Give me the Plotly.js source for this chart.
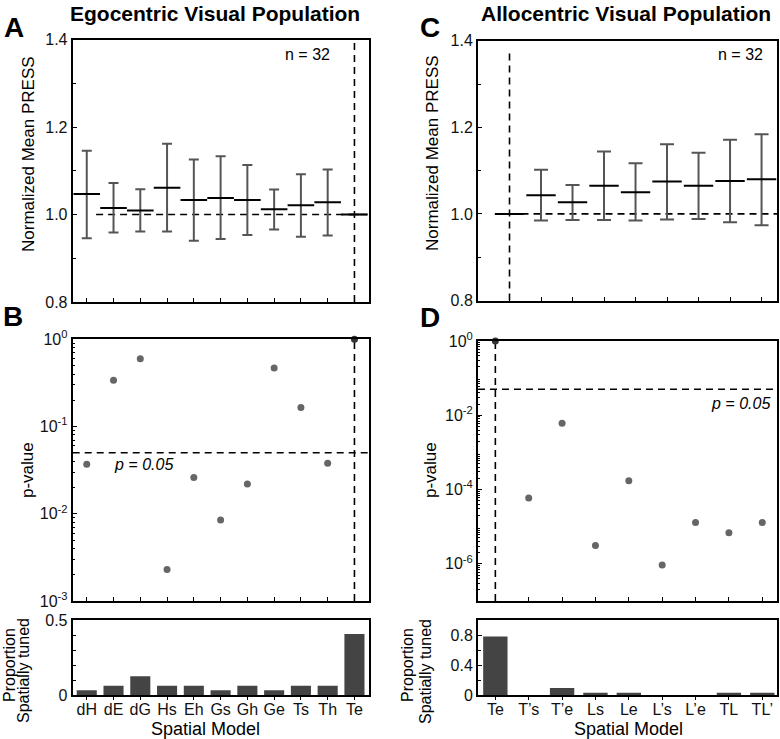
<!DOCTYPE html>
<html><head><meta charset="utf-8">
<script src="https://cdn.plot.ly/plotly-3.0.1.min.js"></script>
<style>html,body{margin:0;padding:0;background:#fff}#chart{width:780px;height:739px}</style>
</head><body><div id="chart"></div>
<script>
// ---------- data ----------
const egoModels = ['dH','dE','dG','Hs','Eh','Gs','Gh','Ge','Ts','Th','Te'];
const egoPressMean = [1.047,1.015,1.009,1.061,1.033,1.038,1.033,1.012,1.021,1.028,1.0];
const egoPressHigh = [1.146,1.072,1.058,1.162,1.126,1.133,1.113,1.057,1.092,1.103,1.0];
const egoPressLow  = [0.946,0.959,0.961,0.961,0.940,0.944,0.953,0.966,0.949,0.952,1.0];
const egoPValue = [0.037,0.34,0.60,0.0023,0.026,0.0085,0.022,0.47,0.165,0.038,1.0];
const egoTuned = [1/32,2/32,4/32,2/32,2/32,1/32,2/32,1/32,2/32,2/32,13/32];

const alloModels = ['Te','T\u2019s','T\u2019e','Ls','Le','L\u2019s','L\u2019e','TL','TL\u2019'];
const alloPressMean = [1.0,1.043,1.027,1.065,1.050,1.075,1.065,1.076,1.080];
const alloPressHigh = [1.0,1.102,1.067,1.144,1.117,1.161,1.141,1.171,1.184];
const alloPressLow  = [1.0,0.985,0.986,0.986,0.985,0.987,0.988,0.981,0.974];
const alloPValue = [1.0,5.9e-5,6.1e-3,3.1e-6,1.74e-4,9.3e-7,1.3e-5,6.9e-6,1.3e-5];
const alloTuned = [25/32,0,3/32,1/32,1/32,0,0,1/32,1/32];

const pThreshold = 0.05;
const nCells = 32;
const pressTickVals = [0.8,1.0,1.2,1.4];
const pressTickText = ['0.8','1.0','1.2','1.4'];
const egoPTickVals = [1,0.1,0.01,0.001];
const egoPTickText = ['10<sup>0</sup>','10<sup>-1</sup>','10<sup>-2</sup>','10<sup>-3</sup>'];
const alloPTickVals = [1,1e-2,1e-4,1e-6];
const alloPTickText = ['10<sup>0</sup>','10<sup>-2</sup>','10<sup>-4</sup>','10<sup>-6</sup>'];
const egoTunedTicks = [0,0.5];
const alloTunedTicks = [0,0.4,0.8];

// ---------- helpers ----------
const W = 780, H = 739;
const px = x => x / W;
const py = y => 1 - y / H;
const idx = arr => arr.map((_, i) => i);
function logMinor(lo, hi) {
  const v = [];
  for (let k = lo; k < hi; k++) for (let m = 2; m <= 9; m++) v.push(m * Math.pow(10, k));
  return v;
}
const FONT = 'Liberation Sans, Arial, Helvetica, sans-serif';
const egoX = idx(egoModels), alloX = idx(alloModels);
const last = egoModels.length - 1;

const frame = {showline:true, linecolor:'#000', linewidth:2, mirror:true, zeroline:false,
  showgrid:false, ticks:'inside', ticklen:4, tickwidth:1, tickcolor:'#000', fixedrange:true,
  tickfont:{size:16, family:FONT, color:'#111'}};

// ---------- traces ----------
const traces = [
  {type:'scatter', mode:'markers', x:egoX, y:egoPressMean, xaxis:'x', yaxis:'y',
   marker:{symbol:'line-ew', size:19, line:{width:2, color:'#000'}},
   error_y:{type:'data', symmetric:false,
     array:egoPressHigh.map((h,i)=>h-egoPressMean[i]),
     arrayminus:egoPressMean.map((m,i)=>m-egoPressLow[i]),
     color:'#555', thickness:2, width:5}, hoverinfo:'skip'},
  {type:'scatter', mode:'markers', x:egoX, y:egoPValue, xaxis:'x2', yaxis:'y2', cliponaxis:false,
   marker:{size:7, color:egoX.map(i=> i===last ? '#333' : '#666')}, hoverinfo:'skip'},
  {type:'bar', x:egoX, y:egoTuned, xaxis:'x3', yaxis:'y3', width:0.75,
   marker:{color:'#444', line:{width:0}}, hoverinfo:'skip'},
  {type:'scatter', mode:'markers', x:alloX, y:alloPressMean, xaxis:'x4', yaxis:'y4',
   marker:{symbol:'line-ew', size:21, line:{width:2, color:'#000'}},
   error_y:{type:'data', symmetric:false,
     array:alloPressHigh.map((h,i)=>h-alloPressMean[i]),
     arrayminus:alloPressMean.map((m,i)=>m-alloPressLow[i]),
     color:'#555', thickness:2, width:7}, hoverinfo:'skip'},
  {type:'scatter', mode:'markers', x:alloX, y:alloPValue, xaxis:'x5', yaxis:'y5', cliponaxis:false,
   marker:{size:7, color:alloX.map(i=> i===0 ? '#333' : '#666')}, hoverinfo:'skip'},
  {type:'bar', x:alloX, y:alloTuned, xaxis:'x6', yaxis:'y6', width:0.73,
   marker:{color:'#444', line:{width:0}}, hoverinfo:'skip'}
];

// ---------- layout ----------
const leftDom = [px(72.7), px(368.5)];
const rightDom = [px(478), px(777.3)];
const domA = [py(302), py(39.5)], domC = [py(300.5), py(40.7)];
const domB = [py(601), py(339.3)], domD = [py(601), py(341)];
const domBar = [py(695), py(620)];

const dash = {color:'#000', width:1.6, dash:'7px,5px'};
const shapes = [
  {type:'line', xref:'x', yref:'y', x0:0.35, x1:10.5, y0:1, y1:1, line:dash, layer:'below'},
  {type:'line', xref:'x', yref:'y domain', x0:last, x1:last, y0:0, y1:1, line:dash, layer:'below'},
  {type:'line', xref:'x2 domain', yref:'y2', x0:0, x1:1, y0:pThreshold, y1:pThreshold, line:dash, layer:'below'},
  {type:'line', xref:'x2', yref:'y2 domain', x0:last, x1:last, y0:0, y1:1, line:dash, layer:'below'},
  {type:'line', xref:'x4', yref:'y4', x0:0, x1:8.5, y0:1, y1:1, line:dash, layer:'below'},
  {type:'line', xref:'x4', yref:'y4', x0:0, x1:0, y0:0.8, y1:1.38, line:dash, layer:'below'},
  {type:'line', xref:'x5 domain', yref:'y5', x0:0, x1:1, y0:pThreshold, y1:pThreshold, line:dash, layer:'below'},
  {type:'line', xref:'x5', yref:'y5 domain', x0:0, x1:0, y0:0, y1:1, line:dash, layer:'below'}
];

function ann(text, x, y, opts) {
  return Object.assign({text, x:px(x), y:py(y), xref:'paper', yref:'paper', showarrow:false,
    xanchor:'center', yanchor:'middle', font:{size:16, family:FONT, color:'#000'}}, opts || {});
}
const bold = s => ({size:s, family:FONT, color:'#000', weight:'bold'});
const f = s => ({size:s, family:FONT, color:'#000'});
const annotations = [
  ann('<b>Egocentric Visual Population</b>', 215, 0, {font:bold(21), yanchor:'top'}),
  ann('<b>Allocentric Visual Population</b>', 626, 0, {font:bold(21), yanchor:'top'}),
  ann('<b>A</b>', 14, 28, {font:bold(28)}),
  ann('<b>B</b>', 13, 316, {font:bold(28)}),
  ann('<b>C</b>', 430, 28, {font:bold(28)}),
  ann('<b>D</b>', 430, 317, {font:bold(28)}),
  ann('Normalized Mean PRESS', 28, 154, {textangle:-90, font:f(17)}),
  ann('Normalized Mean PRESS', 432, 153, {textangle:-90, font:f(17)}),
  ann('p-value', 27, 470, {textangle:-90, font:f(17)}),
  ann('p-value', 430, 470, {textangle:-90, font:f(17)}),
  ann('Proportion', 9, 665, {textangle:-90, font:f(16)}),
  ann('Spatially tuned', 23, 671, {textangle:-90, font:f(16)}),
  ann('Proportion', 407, 665, {textangle:-90, font:f(16)}),
  ann('Spatially tuned', 425, 671, {textangle:-90, font:f(16)}),
  ann('Spatial Model', 205, 729, {font:f(18)}),
  ann('Spatial Model', 628, 729, {font:f(18)}),
  ann('n = ' + nCells, 307, 54),
  ann('n = ' + nCells, 740, 54),
  ann('<i>p = ' + pThreshold.toFixed(2) + '</i>', 143, 464),
  ann('<i>p = ' + pThreshold.toFixed(2) + '</i>', 772, 403, {xanchor:'right'})
];

const xTop = (dom, anchor, range, n) => Object.assign({}, frame, {domain:dom, anchor, range,
  tickmode:'array', tickvals:idx(Array(n).fill(0)), showticklabels:false});

const layout = {
  width:W, height:H, margin:{l:0, r:0, t:0, b:0}, showlegend:false,
  paper_bgcolor:'#fff', plot_bgcolor:'#fff',
  font:{family:FONT, size:16, color:'#000'},
  xaxis: xTop(leftDom, 'y', [-0.525, 10.525], egoModels.length),
  yaxis: Object.assign({}, frame, {domain:domA, anchor:'x', range:[0.8,1.4],
    tickmode:'array', tickvals:pressTickVals, ticktext:pressTickText,
    minor:{tickmode:'linear', tick0:0.8, dtick:0.1, ticks:'inside', ticklen:3, tickcolor:'#000'}}),
  xaxis2: xTop(leftDom, 'y2', [-0.525, 10.525], egoModels.length),
  yaxis2: Object.assign({}, frame, {domain:domB, anchor:'x2', type:'log', range:[-3,0],
    tickmode:'array', tickvals:egoPTickVals, ticktext:egoPTickText,
    minor:{tickmode:'array', tickvals:logMinor(-3,0), ticks:'inside', ticklen:2, tickcolor:'#000'}}),
  xaxis3: Object.assign({}, frame, {domain:leftDom, anchor:'y3', range:[-0.525, 10.525],
    tickmode:'array', tickvals:egoX, ticktext:egoModels, ticks:'outside', ticklen:3, ticklabelstandoff:-4}),
  yaxis3: Object.assign({}, frame, {domain:domBar, anchor:'x3', range:[0,0.5],
    tickmode:'array', tickvals:egoTunedTicks, ticktext:egoTunedTicks.map(String),
    minor:{tickmode:'linear', tick0:0, dtick:0.1, ticks:'inside', ticklen:3, tickcolor:'#000'}}),
  xaxis4: xTop(rightDom, 'y4', [-1, 8.5], alloModels.length),
  yaxis4: Object.assign({}, frame, {domain:domC, anchor:'x4', range:[0.8,1.4],
    tickmode:'array', tickvals:pressTickVals, ticktext:pressTickText,
    minor:{tickmode:'linear', tick0:0.8, dtick:0.1, ticks:'inside', ticklen:3, tickcolor:'#000'}}),
  xaxis5: xTop(rightDom, 'y5', [-0.52, 8.45], alloModels.length),
  yaxis5: Object.assign({}, frame, {domain:domD, anchor:'x5', type:'log', range:[-7,0],
    tickmode:'array', tickvals:alloPTickVals, ticktext:alloPTickText,
    minor:{tickmode:'array', tickvals:logMinor(-7,0), ticks:'inside', ticklen:2, tickcolor:'#000'}}),
  xaxis6: Object.assign({}, frame, {domain:rightDom, anchor:'y6', range:[-0.52, 8.45],
    tickmode:'array', tickvals:alloX, ticktext:alloModels, ticks:'outside', ticklen:3, ticklabelstandoff:-4}),
  yaxis6: Object.assign({}, frame, {domain:domBar, anchor:'x6', range:[0,1],
    tickmode:'array', tickvals:alloTunedTicks, ticktext:alloTunedTicks.map(String),
    minor:{tickmode:'linear', tick0:0, dtick:0.2, ticks:'inside', ticklen:3, tickcolor:'#000'}}),
  shapes, annotations
};

Plotly.newPlot('chart', traces, layout, {displayModeBar:false, staticPlot:true});
</script></body></html>
